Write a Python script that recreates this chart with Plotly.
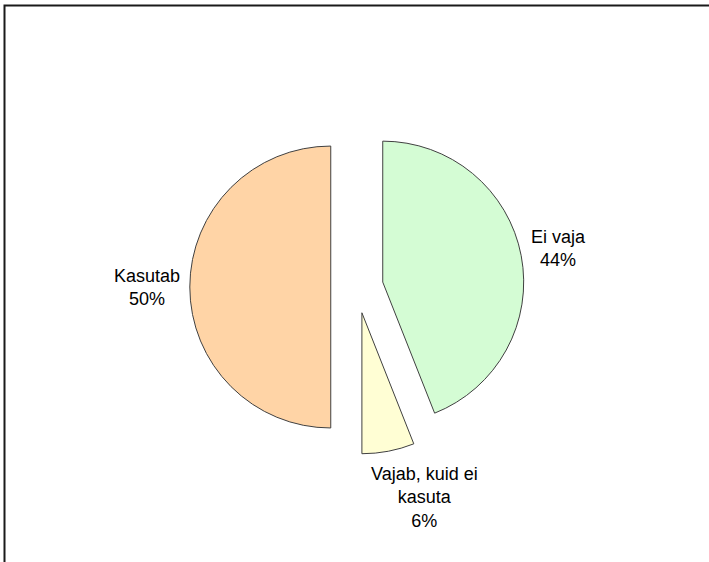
import plotly.graph_objects as go

labels = ["Ei vaja", "Vajab, kuid ei kasuta", "Kasutab"]
values = [44, 6, 50]
label_text = ["Ei vaja<br>44%", "Vajab, kuid ei<br>kasuta<br>6%", "Kasutab<br>50%"]
colors = ["#D4FCD4", "#FFFED4", "#FFD4A6"]

W, H = 709, 562
# label centre positions in pixels (layout only)
label_pos = [(558, 248), (425, 497), (147, 287)]

fig = go.Figure(go.Pie(
    labels=labels,
    values=values,
    sort=False,
    direction="clockwise",
    rotation=0,
    pull=[0.186, 0.186, 0.186],
    marker=dict(colors=colors, line=dict(color="#404040", width=1)),
    textinfo="none",
    hoverinfo="label+percent",
    showlegend=False,
    domain=dict(x=[0.2677, 0.7393], y=[0.1918, 0.7868]),
))

annotations = []
for txt, (px, py) in zip(label_text, label_pos):
    annotations.append(dict(
        text=txt, xref="paper", yref="paper",
        x=px / W, y=1 - py / H, xanchor="center", yanchor="middle",
        showarrow=False, align="center",
        font=dict(family="Liberation Sans, Arial, sans-serif", size=18, color="#000000"),
    ))

fig.update_layout(
    width=W, height=H,
    margin=dict(l=0, r=0, t=0, b=0),
    paper_bgcolor="white",
    plot_bgcolor="white",
    annotations=annotations,
    shapes=[dict(type="rect", xref="paper", yref="paper",
                 x0=4.5 / W, x1=1.05, y0=-0.05, y1=1 - 5.5 / H,
                 line=dict(color="#1a1a1a", width=2), fillcolor="rgba(0,0,0,0)")],
)

fig.write_html("out.html", config={"displayModeBar": False},
               post_script="document.body.style.margin='0';document.body.style.overflow='hidden';")
